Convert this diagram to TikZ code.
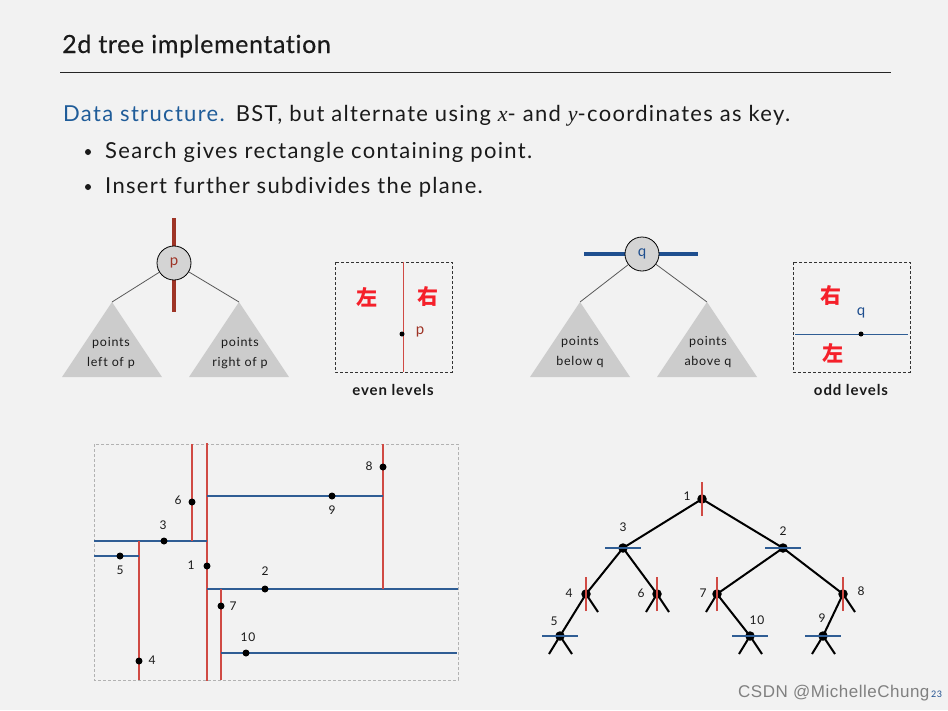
\documentclass[tikz,border=0pt]{standalone}
\usepackage{fontspec}
\setmainfont{Lato}[LetterSpace=6, RawFeature=-liga]
\newfontfamily\titlef{Lato}[LetterSpace=2.5, RawFeature=-liga, FakeBold=0.3]
\newfontfamily\cjk{Noto Sans CJK SC}
\newfontfamily\serifit{Liberation Serif}
\newfontfamily\wmfont{Liberation Sans}[LetterSpace=3]
\definecolor{bg}{HTML}{F2F2F2}
\definecolor{brownp}{HTML}{9E3426}
\definecolor{blueq}{HTML}{1F4F8F}
\definecolor{titleblue}{HTML}{1F5C99}
\definecolor{redln}{HTML}{D04A44}
\definecolor{blueln}{HTML}{2F5D94}
\definecolor{tri}{HTML}{CCCCCC}
\definecolor{nodegray}{HTML}{D4D4D4}
\definecolor{cjkred}{HTML}{F5202A}
\definecolor{txt}{HTML}{1A1A1A}
\begin{document}
\begin{tikzpicture}[x=1pt,y=-1pt,
  titlefont/.style={font=\titlef\fontsize{25}{30}\selectfont},
  bodyfont/.style={font=\fontsize{22}{26}\selectfont},
  txtnode/.style={anchor=base west, inner sep=0, text=txt},
  trilabel/.style={font=\fontsize{12.5}{15}\selectfont, text=txt, align=center, inner sep=0},
  caption/.style={font=\bfseries\fontsize{15}{18}\selectfont, text=txt, inner sep=0},
  bignode/.style={circle, draw=black, line width=0.8pt, fill=nodegray, minimum size=34pt, inner sep=0, font=\fontsize{15}{18}\selectfont},
  tri/.style={fill=tri},
  conn/.style={draw=black!65, line width=0.8pt},
  dashbox/.style={draw=black!80, line width=0.8pt, dash pattern=on 3pt off 2pt},
  cjklab/.style={font=\cjk\bfseries\fontsize{21}{24}\selectfont, text=cjkred, inner sep=0},
  pdot/.style={circle, fill=black, minimum size=7pt, inner sep=0},
  sdot/.style={circle, fill=black, minimum size=5pt, inner sep=0},
  tdot/.style={circle, fill=black, minimum size=9.5pt, inner sep=0},
  num/.style={font=\fontsize{12}{14}\selectfont, text=txt, inner sep=0},
  vsplit/.style={draw=redln, line width=1.2pt},
  hsplit/.style={draw=blueln, line width=1.2pt},
  tedge/.style={draw=black, line width=2pt},
  bulletdot/.style={circle, fill=txt, minimum size=6pt, inner sep=0},
]
% background
\fill[bg] (0,0) rectangle (948,710);

% title
\node[txtnode, titlefont] (title) at (62,53) {2d tree implementation};
\draw[line width=1pt, black!85] (60,72) -- (891,72);

% body text
\node[txtnode, bodyfont] (l1) at (63,121) {\textcolor{titleblue}{Data structure.}\hspace{0.5em}BST, but alternate using {\serifit\itshape x}- and {\serifit\itshape y}-coordinates as key.};
\node[bulletdot] (bl1) at (88,152) {};
\node[txtnode, bodyfont] (b1) at (105,158) {Search gives rectangle containing point.};
\node[bulletdot] (bl2) at (88,187) {};
\node[txtnode, bodyfont] (b2) at (105,193) {Insert further subdivides the plane.};

% p tree
\draw[brownp, line width=4pt] (174,218) -- (174,312);
\fill[tri] (112,302) -- (62,377) -- (162,377) -- cycle;
\fill[tri] (239,302) -- (189,377) -- (289,377) -- cycle;
\coordinate (pl) at (112,302);
\coordinate (pr) at (239,302);
\node[bignode] (p) at (174,263) {\textcolor{brownp}{p}};
\draw[conn] (p) -- (pl);
\draw[conn] (p) -- (pr);
\node[trilabel] (pl1) at (111,343) {points};
\node[trilabel] (pl2) at (111,363) {left of p};
\node[trilabel] (pr1) at (240,343) {points};
\node[trilabel] (pr2) at (240,363) {right of p};

% even levels box
\draw[dashbox] (335,262) rectangle (452,372);
\draw[redln, line width=0.9pt] (403,262) -- (403,372);
\node[sdot] (pdt) at (402,334) {};
\node[font=\fontsize{15}{18}\selectfont, text=brownp, inner sep=0] (plab) at (420,332) {p};
\node[cjklab] (zuo1) at (367,297) {左};
\node[cjklab] (you1) at (428,297) {右};
\node[caption] (even) at (393,390) {even levels};

% q tree
\draw[blueq, line width=4pt] (584,254) -- (698,254);
\fill[tri] (580,302) -- (530,377) -- (630,377) -- cycle;
\fill[tri] (707,302) -- (657,377) -- (757,377) -- cycle;
\coordinate (ql) at (580,302);
\coordinate (qr) at (707,302);
\node[bignode] (q) at (642,254) {\textcolor{blueq}{q}};
\draw[conn] (q) -- (ql);
\draw[conn] (q) -- (qr);
\node[trilabel] (ql1) at (580,342) {points};
\node[trilabel] (ql2) at (580,362) {below q};
\node[trilabel] (qr1) at (708,342) {points};
\node[trilabel] (qr2) at (708,362) {above q};

% odd levels box
\draw[dashbox] (793,262) rectangle (910,372);
\draw[blueln, line width=0.9pt] (795,334) -- (908,334);
\node[sdot] (qdt) at (861,334) {};
\node[font=\fontsize{15}{18}\selectfont, text=blueq, inner sep=0] (qlab) at (861,313) {q};
\node[cjklab] (you2) at (831,296) {右};
\node[cjklab] (zuo2) at (833,353) {左};
\node[caption] (odd) at (851,390) {odd levels};

% plane
\draw[draw=black!30, line width=0.8pt, dash pattern=on 3pt off 2pt] (94,444) rectangle (458,680);
\draw[vsplit] (207,443) -- (207,681);
\draw[hsplit] (207,589) -- (458,589);
\draw[hsplit] (94,541) -- (207,541);
\draw[vsplit] (139,541) -- (139,680);
\draw[hsplit] (94,556) -- (139,556);
\draw[vsplit] (192,444) -- (192,541);
\draw[vsplit] (221,589) -- (221,680);
\draw[vsplit] (383,444) -- (383,589);
\draw[hsplit] (207,496) -- (383,496);
\draw[hsplit] (221,653) -- (457,653);
\node[pdot] (a1) at (207,566) {};
\node[pdot] (a2) at (265,589) {};
\node[pdot] (a3) at (164,541) {};
\node[pdot] (a4) at (139,661) {};
\node[pdot] (a5) at (120,556) {};
\node[pdot] (a6) at (192,502) {};
\node[pdot] (a7) at (221,606) {};
\node[pdot] (a8) at (383,467) {};
\node[pdot] (a9) at (332,496) {};
\node[pdot] (a10) at (246,653) {};
\node[num] (n1) at (191,565) {1};
\node[num] (n2) at (265,571) {2};
\node[num] (n3) at (163,525) {3};
\node[num] (n4) at (152,660) {4};
\node[num] (n5) at (120,570) {5};
\node[num] (n6) at (178,500) {6};
\node[num] (n7) at (233,606) {7};
\node[num] (n8) at (369,466) {8};
\node[num] (n9) at (332,510) {9};
\node[num] (n10) at (248,637) {10};

% tree
\coordinate (t1) at (702,499);
\coordinate (t3) at (623,548);
\coordinate (t2) at (783,548);
\coordinate (t4) at (586,594);
\coordinate (t6) at (657,594);
\coordinate (t7) at (717,594);
\coordinate (t8) at (843,594);
\coordinate (t5) at (560,636);
\coordinate (t10) at (750,636);
\coordinate (t9) at (823,636);
\coordinate (s4r) at (598,612);
\coordinate (s6l) at (646,612);
\coordinate (s6r) at (669,612);
\coordinate (s7l) at (706,612);
\coordinate (s8r) at (855,612);
\coordinate (s5l) at (549,654);
\coordinate (s5r) at (572,654);
\coordinate (s10l) at (739,654);
\coordinate (s10r) at (762,654);
\coordinate (s9l) at (812,654);
\coordinate (s9r) at (835,654);
\draw[tedge] (t1) -- (t3);
\draw[tedge] (t1) -- (t2);
\draw[tedge] (t3) -- (t4);
\draw[tedge] (t3) -- (t6);
\draw[tedge] (t2) -- (t7);
\draw[tedge] (t2) -- (t8);
\draw[tedge] (t4) -- (t5);
\draw[tedge] (t7) -- (t10);
\draw[tedge] (t8) -- (t9);
\draw[tedge] (t4) -- (s4r);
\draw[tedge] (t6) -- (s6l);
\draw[tedge] (t6) -- (s6r);
\draw[tedge] (t7) -- (s7l);
\draw[tedge] (t8) -- (s8r);
\draw[tedge] (t5) -- (s5l);
\draw[tedge] (t5) -- (s5r);
\draw[tedge] (t10) -- (s10l);
\draw[tedge] (t10) -- (s10r);
\draw[tedge] (t9) -- (s9l);
\draw[tedge] (t9) -- (s9r);
\node[tdot] (d1) at (t1) {};
\node[tdot] (d2) at (t2) {};
\node[tdot] (d3) at (t3) {};
\node[tdot] (d4) at (t4) {};
\node[tdot] (d5) at (t5) {};
\node[tdot] (d6) at (t6) {};
\node[tdot] (d7) at (t7) {};
\node[tdot] (d8) at (t8) {};
\node[tdot] (d9) at (t9) {};
\node[tdot] (d10) at (t10) {};
\foreach \t in {t1,t4,t6,t7,t8}{
  \draw[vsplit, line width=1.5pt] ([yshift=-17pt]\t) -- ([yshift=17pt]\t);
}
\foreach \t in {t3,t2,t5,t10,t9}{
  \draw[hsplit, line width=1.5pt] ([xshift=-18pt]\t) -- ([xshift=18pt]\t);
}
\node[num] (m1) at (687,496) {1};
\node[num] (m2) at (783,531) {2};
\node[num] (m3) at (623,527) {3};
\node[num] (m4) at (569,593) {4};
\node[num] (m5) at (554,621) {5};
\node[num] (m6) at (641,593) {6};
\node[num] (m7) at (703,593) {7};
\node[num] (m8) at (861,591) {8};
\node[num] (m9) at (822,618) {9};
\node[num] (m10) at (757,620) {10};

% watermark
\node[anchor=base west, inner sep=0, font=\wmfont\fontsize{17}{19}\selectfont, text=black!50] (wm) at (738,697) {CSDN @MichelleChung};
\node[anchor=base west, inner sep=0, font=\fontsize{9}{10}\selectfont, text=blueq] (pg) at (931,697) {23};
\end{tikzpicture}
\end{document}
